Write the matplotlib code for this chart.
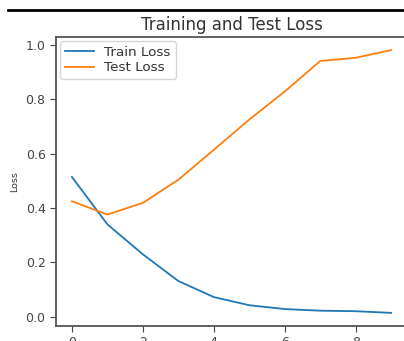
import matplotlib.pyplot as plt
from matplotlib.lines import Line2D

epochs = list(range(10))
train_loss = [0.514, 0.34, 0.23, 0.132, 0.073, 0.043, 0.029, 0.023, 0.021, 0.015]
test_loss = [0.425, 0.376, 0.419, 0.504, 0.614, 0.725, 0.828, 0.94, 0.952, 0.98]

fig = plt.figure(figsize=(4.04, 3.41), dpi=100)
ax = fig.add_axes([0.1386, 0.044, 0.869, 0.8475])

ax.plot(epochs, train_loss, color="#1f77b4", linewidth=1.3, label="Train Loss")
ax.plot(epochs, test_loss, color="#ff7f0e", linewidth=1.3, label="Test Loss")

ax.set_title("Training and Test Loss", fontsize=12, color="#333333", pad=5)
ax.set_ylabel("Loss", fontsize=6.8, color="#333333", labelpad=5)
ax.tick_params(labelsize=9, colors="#444444", length=4)
for s in ax.spines.values():
    s.set_color("#555555")
    s.set_linewidth(1.3)
leg = ax.legend(loc="upper left", fontsize=9.7, frameon=True,
                borderaxespad=0.3, borderpad=0.35, labelspacing=0.2,
                handlelength=2.2, handletextpad=0.75)
for t in leg.get_texts():
    t.set_color("#333333")

# black rule across the top of the screenshot
fig.add_artist(Line2D([8 / 404, 1.0], [331 / 341, 331 / 341], color="black", linewidth=2.0, transform=fig.transFigure))

fig.savefig("out.png", dpi=100)
